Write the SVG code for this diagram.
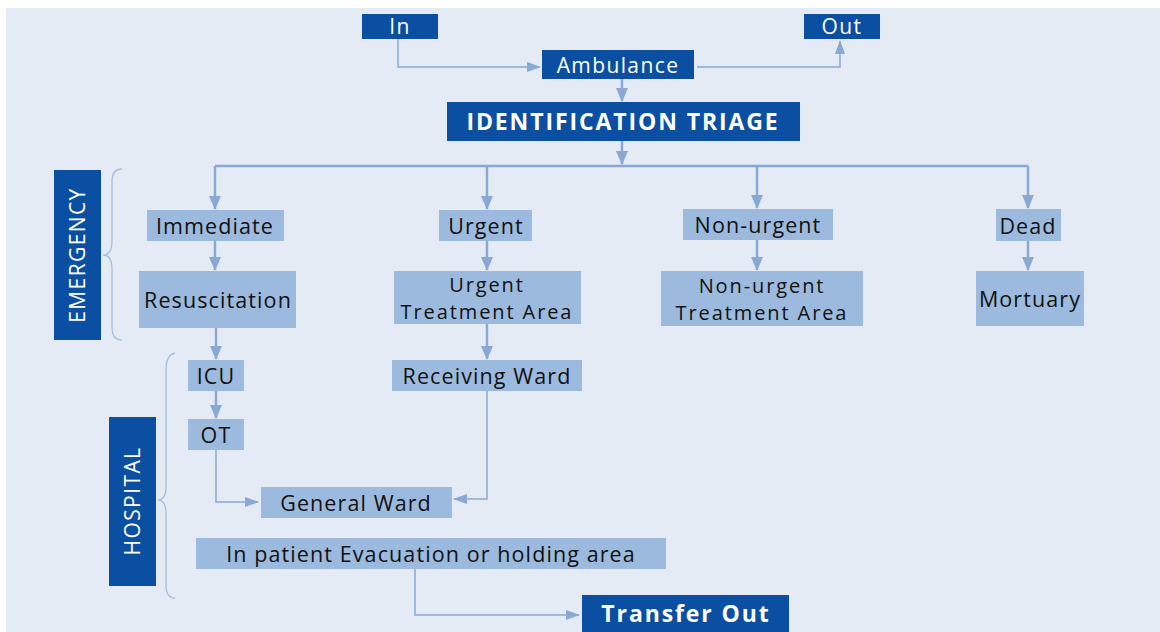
<svg xmlns="http://www.w3.org/2000/svg" width="1160" height="632" viewBox="0 0 1160 632">
<defs>
<style>
.dark{fill:#0b4fa3}
.light{fill:#9cbadd}
.wt{font-family:"Open Sans","Liberation Sans",sans-serif;fill:#fff;font-size:21px;text-anchor:middle;letter-spacing:1.4px}
.wb{font-family:"Open Sans","Liberation Sans",sans-serif;fill:#fff;font-size:23px;font-weight:bold;text-anchor:middle;letter-spacing:1.9px}
.bt{font-family:"Open Sans","Liberation Sans",sans-serif;fill:#111;font-size:21.5px;text-anchor:middle;letter-spacing:1.1px}
.bt2{font-family:"Open Sans","Liberation Sans",sans-serif;fill:#111;font-size:20px;text-anchor:middle;letter-spacing:1.9px}
.ln{fill:none;stroke:#88a9d6;stroke-width:1.5}
.lt{fill:none;stroke:#88a9d6;stroke-width:2.5}
.br{fill:none;stroke:#a6bedf;stroke-width:1.3}
</style>
<marker id="ah" markerUnits="userSpaceOnUse" markerWidth="14" markerHeight="14" viewBox="0 0 14 14" refX="13" refY="7" orient="auto">
<path d="M0,1 L14,7 L0,13 Z" fill="#88a9d6"/>
</marker>
<marker id="ahs" markerUnits="userSpaceOnUse" markerWidth="14" markerHeight="12" viewBox="0 0 14 12" refX="13" refY="6" orient="auto">
<path d="M0,1 L14,6 L0,11 Z" fill="#88a9d6"/>
</marker>
</defs>
<rect x="0" y="0" width="1160" height="632" fill="#fff"/>
<rect x="6" y="8" width="1154" height="624" fill="#e4ebf5"/>

<g id="connectors">
<path class="ln" d="M398,39 V67 H540" marker-end="url(#ahs)"/>
<path class="ln" d="M697,67 H840 V41" marker-end="url(#ahs)"/>
<path class="lt" d="M622,79 V101" marker-end="url(#ah)"/>
<path class="lt" d="M622,141 V164" marker-end="url(#ah)"/>
<path class="lt" d="M215,166 H1028"/>
<path class="lt" d="M215,166 V209" marker-end="url(#ah)"/>
<path class="lt" d="M487,166 V209" marker-end="url(#ah)"/>
<path class="lt" d="M757,166 V208" marker-end="url(#ah)"/>
<path class="lt" d="M1028,166 V208" marker-end="url(#ah)"/>
<path class="lt" d="M215,241 V270" marker-end="url(#ah)"/>
<path class="lt" d="M487,241 V270" marker-end="url(#ah)"/>
<path class="lt" d="M757,240 V270" marker-end="url(#ah)"/>
<path class="lt" d="M1028,241 V270" marker-end="url(#ah)"/>
<path class="lt" d="M216,328 V359" marker-end="url(#ah)"/>
<path class="lt" d="M216,391 V418" marker-end="url(#ah)"/>
<path class="lt" d="M487,324 V359" marker-end="url(#ah)"/>
<path class="ln" d="M216,450 V502 H258" marker-end="url(#ahs)"/>
<path class="ln" d="M487,391 V499 H454" marker-end="url(#ahs)"/>
<path class="ln" d="M415,569 V615 H579" marker-end="url(#ahs)"/>
</g>

<g id="brace-emergency">
<path class="br" d="M122,169 Q112,169 112,182 V241 Q112,255 103,255 Q112,255 112,269 V327 Q112,340 122,340"/>
</g>
<g id="brace-hospital">
<path class="br" d="M175,353 Q166,355 166,370 V486 Q166,500 158,500 Q166,500 166,514 V585 Q166,598 175,598"/>
</g>

<g id="in"><rect class="dark" x="362" y="14" width="76" height="25"/><text class="wt" x="400" y="34">In</text></g>
<g id="out"><rect class="dark" x="804" y="14" width="76" height="25"/><text class="wt" x="842" y="34">Out</text></g>
<g id="ambulance"><rect class="dark" x="542" y="50" width="152" height="29"/><text class="wt" x="618" y="73">Ambulance</text></g>
<g id="triage"><rect class="dark" x="447" y="102" width="353" height="39"/><text class="wb" x="623" y="130">IDENTIFICATION TRIAGE</text></g>

<g id="emergency"><rect class="dark" x="54" y="170" width="47" height="170"/><text class="wt" transform="translate(85,255) rotate(-90)" x="0" y="0">EMERGENCY</text></g>
<g id="hospital"><rect class="dark" x="109" y="417" width="47" height="169"/><text class="wt" transform="translate(140,501) rotate(-90)" x="0" y="0">HOSPITAL</text></g>

<g id="immediate"><rect class="light" x="147" y="210" width="137" height="31"/><text class="bt" x="215" y="234">Immediate</text></g>
<g id="urgent"><rect class="light" x="439" y="210" width="93" height="31"/><text class="bt" x="486" y="234">Urgent</text></g>
<g id="nonurgent"><rect class="light" x="683" y="209" width="150" height="31"/><text class="bt" x="758" y="233">Non-urgent</text></g>
<g id="dead"><rect class="light" x="996" y="209" width="65" height="32"/><text class="bt" x="1028" y="234">Dead</text></g>

<g id="resuscitation"><rect class="light" x="139" y="271" width="157" height="57"/><text class="bt" x="218" y="308">Resuscitation</text></g>
<g id="uta"><rect class="light" x="394" y="271" width="187" height="53"/><text class="bt2"><tspan x="487" y="292">Urgent</tspan><tspan x="487" y="319">Treatment Area</tspan></text></g>
<g id="nuta"><rect class="light" x="661" y="271" width="202" height="55"/><text class="bt2"><tspan x="762" y="293">Non-urgent</tspan><tspan x="762" y="320">Treatment Area</tspan></text></g>
<g id="mortuary"><rect class="light" x="976" y="271" width="108" height="55"/><text class="bt" x="1030" y="307">Mortuary</text></g>

<g id="icu"><rect class="light" x="188" y="360" width="56" height="31"/><text class="bt" x="216" y="384">ICU</text></g>
<g id="ot"><rect class="light" x="188" y="419" width="56" height="31"/><text class="bt" x="216" y="443">OT</text></g>
<g id="receiving"><rect class="light" x="392" y="360" width="190" height="31"/><text class="bt" x="487" y="384">Receiving Ward</text></g>
<g id="general"><rect class="light" x="261" y="487" width="191" height="31"/><text class="bt" x="356" y="511">General Ward</text></g>
<g id="evac"><rect class="light" x="196" y="538" width="470" height="31"/><text class="bt" x="431" y="562">In patient Evacuation or holding area</text></g>
<g id="transfer"><rect class="dark" x="582" y="595" width="207" height="40"/><text class="wb" x="686" y="622">Transfer Out</text></g>
</svg>
